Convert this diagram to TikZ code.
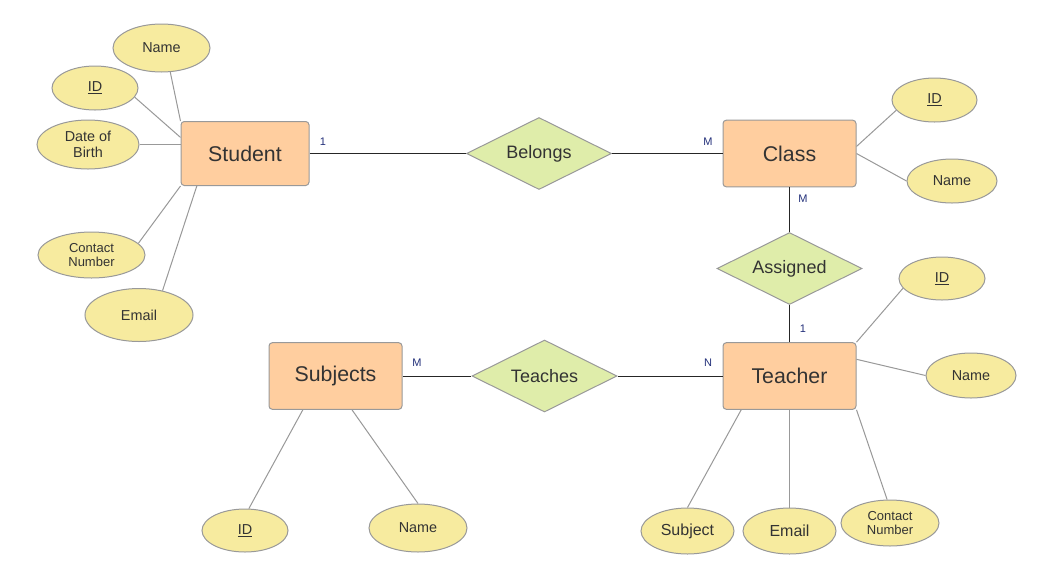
\documentclass[tikz,border=0pt]{standalone}
\usepackage{fontspec}
\setmainfont{Liberation Sans}
\usetikzlibrary{shapes.geometric}
\definecolor{entfill}{HTML}{FFCE9F}
\definecolor{attfill}{HTML}{F7EB9F}
\definecolor{relfill}{HTML}{DFEDAA}
\definecolor{edgegray}{HTML}{999999}
\definecolor{txt}{HTML}{333333}
\definecolor{cardblue}{HTML}{23307A}
\tikzset{
  entity/.style={draw=edgegray,fill=entfill,rounded corners=2.5pt,line width=0.75pt,
    minimum width=99.75pt,minimum height=50pt,inner sep=0pt,text=txt,
    font=\fontsize{16}{19}\selectfont},
  rel/.style={diamond,draw=edgegray,fill=relfill,shape aspect=2,line width=0.75pt,
    minimum width=108.75pt,minimum height=54pt,inner sep=0pt,text=txt,
    font=\fontsize{13.5}{16}\selectfont},
  attr/.style={ellipse,draw=edgegray,fill=attfill,line width=0.75pt,inner sep=0pt,
    text=txt,align=center,font=\fontsize{10.8}{12.5}\selectfont},
  attsize/.style 2 args={minimum width=#1,minimum height=#2},
  small/.style={font=\fontsize{9.75}{10.1}\selectfont},
  big/.style={font=\fontsize{12}{14}\selectfont},
  link/.style={line width=0.75pt,draw=black!85},
  attlink/.style={line width=0.75pt,draw=edgegray},
  card/.style={text=cardblue,inner sep=0pt,font=\fontsize{8.25}{10}\selectfont},
}
\begin{document}
\begin{tikzpicture}[x=0.75pt,y=-0.75pt]
		\useasboundingbox (0,0) rectangle (1054,583);
		\fill[white] (0,0) rectangle (1054,583);
		% entities
		\node[entity,minimum width=96pt,minimum height=48pt] (stu) at (245,153.5) {Student};
		\node[entity] (cls) at (789.5,153.5) {Class};
		\node[entity] (sub) at (335.5,376) {Subjects};
		\node[entity] (tch) at (789.5,376) {Teacher};
		% relationships
		\node[rel] (bel) at (539,153.5) {Belongs};
		\node[rel] (asg) at (789.5,268.5) {Assigned};
		\node[rel] (tea) at (544.5,376) {Teaches};
		% attributes
		\node[attr,attsize={72.75pt}{36pt}] (sname) at (161.5,48) {Name};
		\node[attr,attsize={64.5pt}{33pt}] (sid) at (95,88) {\underline{ID}};
		\node[attr,attsize={76.5pt}{36.75pt}] (sdob) at (88,144.5) {Date of\\Birth};
		\node[attr,small,attsize={80.25pt}{34.5pt}] (scon) at (91.5,255) {Contact\\Number};
		\node[attr,attsize={81pt}{39.75pt}] (smail) at (139,315) {Email};
		\node[attr,attsize={63.75pt}{33pt}] (cid) at (934.5,100) {\underline{ID}};
		\node[attr,attsize={67.5pt}{33pt}] (cname) at (952,181) {Name};
		\node[attr,attsize={64.5pt}{32.25pt}] (tid) at (942,278.5) {\underline{ID}};
		\node[attr,attsize={67.5pt}{33.75pt}] (tname) at (971,375.5) {Name};
		\node[attr,big,attsize={69.75pt}{34.5pt}] (tsubj) at (687.5,531) {Subject};
		\node[attr,big,attsize={69.75pt}{34.5pt}] (tmail) at (789.5,531) {Email};
		\node[attr,small,attsize={73.5pt}{34.5pt}] (tcon) at (890,523) {Contact\\Number};
		\node[attr,attsize={64.5pt}{32.25pt}] (subid) at (245,530.5) {\underline{ID}};
		\node[attr,attsize={73.5pt}{36pt}] (subname) at (418,528) {Name};
		% relationship links
		\draw[link] (stu) -- (bel);
		\draw[link] (bel) -- (cls);
		\draw[link] (cls) -- (asg);
		\draw[link] (asg) -- (tch);
		\draw[link] (sub) -- (tea);
		\draw[link] (tea) -- (tch);
		% attribute links
		\draw[attlink] (sname.-70) -- (stu.north west);
		\draw[attlink] (sid.-13) -- (stu.166);
		\draw[attlink] (sdob) -- (stu.west |- sdob);
		\draw[attlink] (scon.14) -- (stu.south west);
		\draw[attlink] (smail.46) -- (stu.214);
		\draw[attlink] (cid.195) -- (cls.6);
		\draw[attlink] (cname.west) -- (cls.east);
		\draw[attlink] (tid.194) -- (tch.north east);
		\draw[attlink] (tname.west) -- (tch.14);
		\draw[attlink] (tsubj.north) -- (tch.215);
		\draw[attlink] (tmail) -- (tch);
		\draw[attlink] (tcon.97) -- (tch.south east);
		\draw[attlink] (subid.80) -- (sub.226);
		\draw[attlink] (subname.north) -- (sub.-64);
		% cardinalities
		\node[card] (c1) at (323,142) {1};
		\node[card] (c2) at (708,142) {M};
		\node[card] (c3) at (803,199) {M};
		\node[card] (c4) at (803,329) {1};
		\node[card] (c5) at (417,363) {M};
		\node[card] (c6) at (708,363) {N};
	\end{tikzpicture}
\end{document}
